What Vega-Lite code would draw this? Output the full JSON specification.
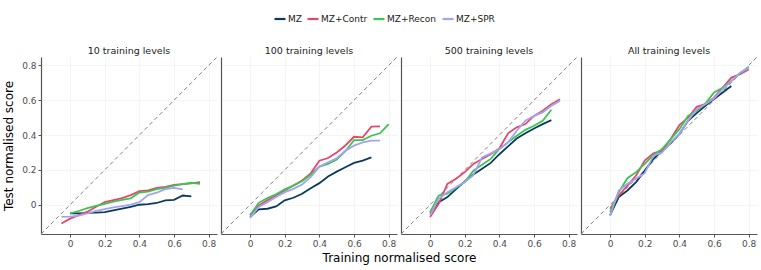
{
  "$schema": "https://vega.github.io/schema/vega-lite/v6.json",
  "padding": {"left": 2, "top": 12, "right": 3, "bottom": 5},
  "spacing": 4,
  "bounds": "flush",
  "config": {
    "font": "DejaVu Sans",
    "view": {"stroke": null},
    "axis": {
      "domainColor": "#555555", "domainWidth": 1.2,
      "tickColor": "#555555", "tickSize": 3, "tickWidth": 1,
      "labelColor": "#4d4d4d", "labelFontSize": 9, "labelFont": "DejaVu Sans",
      "titleFont": "DejaVu Sans", "titleFontWeight": "normal", "titleFontSize": 12, "titleColor": "#000000",
      "gridColor": "#eeeeee", "gridWidth": 0.6
    },
    "title": {"fontSize": 9.5, "fontWeight": "normal", "font": "DejaVu Sans", "color": "#1a1a1a", "offset": 2},
    "legend": {"labelFont": "DejaVu Sans", "labelFontSize": 9, "labelColor": "#1a1a1a"}
  },
  "datasets": {
    "diag": [{"x": -0.168, "y": -0.168}, {"x": 0.848, "y": 0.848}],
    "d": [
      {"panel": "10", "model": "MZ", "x": 0.0, "y": -0.05},
      {"panel": "10", "model": "MZ", "x": 0.05, "y": -0.05},
      {"panel": "10", "model": "MZ", "x": 0.1, "y": -0.047},
      {"panel": "10", "model": "MZ", "x": 0.15, "y": -0.045},
      {"panel": "10", "model": "MZ", "x": 0.2, "y": -0.042},
      {"panel": "10", "model": "MZ", "x": 0.25, "y": -0.033},
      {"panel": "10", "model": "MZ", "x": 0.3, "y": -0.023},
      {"panel": "10", "model": "MZ", "x": 0.35, "y": -0.012},
      {"panel": "10", "model": "MZ", "x": 0.4, "y": 0.0},
      {"panel": "10", "model": "MZ", "x": 0.45, "y": 0.003},
      {"panel": "10", "model": "MZ", "x": 0.5, "y": 0.01},
      {"panel": "10", "model": "MZ", "x": 0.55, "y": 0.025},
      {"panel": "10", "model": "MZ", "x": 0.6, "y": 0.028},
      {"panel": "10", "model": "MZ", "x": 0.65, "y": 0.053},
      {"panel": "10", "model": "MZ", "x": 0.7, "y": 0.048},

      {"panel": "10", "model": "MZ+Contr", "x": -0.05, "y": -0.108},
      {"panel": "10", "model": "MZ+Contr", "x": 0.0, "y": -0.08},
      {"panel": "10", "model": "MZ+Contr", "x": 0.05, "y": -0.06},
      {"panel": "10", "model": "MZ+Contr", "x": 0.1, "y": -0.04},
      {"panel": "10", "model": "MZ+Contr", "x": 0.15, "y": -0.012},
      {"panel": "10", "model": "MZ+Contr", "x": 0.2, "y": 0.015},
      {"panel": "10", "model": "MZ+Contr", "x": 0.25, "y": 0.027},
      {"panel": "10", "model": "MZ+Contr", "x": 0.3, "y": 0.038},
      {"panel": "10", "model": "MZ+Contr", "x": 0.35, "y": 0.055},
      {"panel": "10", "model": "MZ+Contr", "x": 0.4, "y": 0.078},
      {"panel": "10", "model": "MZ+Contr", "x": 0.45, "y": 0.082},
      {"panel": "10", "model": "MZ+Contr", "x": 0.5, "y": 0.097},
      {"panel": "10", "model": "MZ+Contr", "x": 0.55, "y": 0.102},
      {"panel": "10", "model": "MZ+Contr", "x": 0.6, "y": 0.114},
      {"panel": "10", "model": "MZ+Contr", "x": 0.65, "y": 0.118},
      {"panel": "10", "model": "MZ+Contr", "x": 0.7, "y": 0.123},
      {"panel": "10", "model": "MZ+Contr", "x": 0.75, "y": 0.13},

      {"panel": "10", "model": "MZ+Recon", "x": 0.0, "y": -0.05},
      {"panel": "10", "model": "MZ+Recon", "x": 0.05, "y": -0.036},
      {"panel": "10", "model": "MZ+Recon", "x": 0.1, "y": -0.02},
      {"panel": "10", "model": "MZ+Recon", "x": 0.15, "y": -0.007},
      {"panel": "10", "model": "MZ+Recon", "x": 0.2, "y": 0.005},
      {"panel": "10", "model": "MZ+Recon", "x": 0.25, "y": 0.018},
      {"panel": "10", "model": "MZ+Recon", "x": 0.3, "y": 0.028},
      {"panel": "10", "model": "MZ+Recon", "x": 0.35, "y": 0.037},
      {"panel": "10", "model": "MZ+Recon", "x": 0.4, "y": 0.07},
      {"panel": "10", "model": "MZ+Recon", "x": 0.45, "y": 0.075},
      {"panel": "10", "model": "MZ+Recon", "x": 0.5, "y": 0.09},
      {"panel": "10", "model": "MZ+Recon", "x": 0.55, "y": 0.097},
      {"panel": "10", "model": "MZ+Recon", "x": 0.6, "y": 0.11},
      {"panel": "10", "model": "MZ+Recon", "x": 0.65, "y": 0.118},
      {"panel": "10", "model": "MZ+Recon", "x": 0.7, "y": 0.126},
      {"panel": "10", "model": "MZ+Recon", "x": 0.75, "y": 0.12},

      {"panel": "10", "model": "MZ+SPR", "x": -0.05, "y": -0.07},
      {"panel": "10", "model": "MZ+SPR", "x": 0.0, "y": -0.068},
      {"panel": "10", "model": "MZ+SPR", "x": 0.05, "y": -0.062},
      {"panel": "10", "model": "MZ+SPR", "x": 0.1, "y": -0.05},
      {"panel": "10", "model": "MZ+SPR", "x": 0.15, "y": -0.035},
      {"panel": "10", "model": "MZ+SPR", "x": 0.2, "y": -0.025},
      {"panel": "10", "model": "MZ+SPR", "x": 0.25, "y": -0.015},
      {"panel": "10", "model": "MZ+SPR", "x": 0.3, "y": -0.008},
      {"panel": "10", "model": "MZ+SPR", "x": 0.35, "y": 0.0},
      {"panel": "10", "model": "MZ+SPR", "x": 0.4, "y": 0.015},
      {"panel": "10", "model": "MZ+SPR", "x": 0.45, "y": 0.055},
      {"panel": "10", "model": "MZ+SPR", "x": 0.5, "y": 0.07},
      {"panel": "10", "model": "MZ+SPR", "x": 0.55, "y": 0.09},
      {"panel": "10", "model": "MZ+SPR", "x": 0.6, "y": 0.097},
      {"panel": "10", "model": "MZ+SPR", "x": 0.65, "y": 0.088},

      {"panel": "100", "model": "MZ", "x": 0.0, "y": -0.07},
      {"panel": "100", "model": "MZ", "x": 0.05, "y": -0.027},
      {"panel": "100", "model": "MZ", "x": 0.1, "y": -0.023},
      {"panel": "100", "model": "MZ", "x": 0.15, "y": -0.01},
      {"panel": "100", "model": "MZ", "x": 0.2, "y": 0.025},
      {"panel": "100", "model": "MZ", "x": 0.25, "y": 0.04},
      {"panel": "100", "model": "MZ", "x": 0.3, "y": 0.063},
      {"panel": "100", "model": "MZ", "x": 0.35, "y": 0.095},
      {"panel": "100", "model": "MZ", "x": 0.4, "y": 0.124},
      {"panel": "100", "model": "MZ", "x": 0.45, "y": 0.162},
      {"panel": "100", "model": "MZ", "x": 0.5, "y": 0.19},
      {"panel": "100", "model": "MZ", "x": 0.55, "y": 0.215},
      {"panel": "100", "model": "MZ", "x": 0.6, "y": 0.24},
      {"panel": "100", "model": "MZ", "x": 0.65, "y": 0.253},
      {"panel": "100", "model": "MZ", "x": 0.7, "y": 0.272},

      {"panel": "100", "model": "MZ+Contr", "x": 0.0, "y": -0.06},
      {"panel": "100", "model": "MZ+Contr", "x": 0.05, "y": -0.004},
      {"panel": "100", "model": "MZ+Contr", "x": 0.1, "y": 0.025},
      {"panel": "100", "model": "MZ+Contr", "x": 0.15, "y": 0.053},
      {"panel": "100", "model": "MZ+Contr", "x": 0.2, "y": 0.082},
      {"panel": "100", "model": "MZ+Contr", "x": 0.25, "y": 0.11},
      {"panel": "100", "model": "MZ+Contr", "x": 0.3, "y": 0.139},
      {"panel": "100", "model": "MZ+Contr", "x": 0.35, "y": 0.18},
      {"panel": "100", "model": "MZ+Contr", "x": 0.4, "y": 0.253},
      {"panel": "100", "model": "MZ+Contr", "x": 0.45, "y": 0.268},
      {"panel": "100", "model": "MZ+Contr", "x": 0.5, "y": 0.3},
      {"panel": "100", "model": "MZ+Contr", "x": 0.55, "y": 0.34},
      {"panel": "100", "model": "MZ+Contr", "x": 0.6, "y": 0.39},
      {"panel": "100", "model": "MZ+Contr", "x": 0.65, "y": 0.387},
      {"panel": "100", "model": "MZ+Contr", "x": 0.7, "y": 0.448},
      {"panel": "100", "model": "MZ+Contr", "x": 0.75, "y": 0.45},

      {"panel": "100", "model": "MZ+Recon", "x": 0.0, "y": -0.06},
      {"panel": "100", "model": "MZ+Recon", "x": 0.05, "y": 0.011},
      {"panel": "100", "model": "MZ+Recon", "x": 0.1, "y": 0.038},
      {"panel": "100", "model": "MZ+Recon", "x": 0.15, "y": 0.06},
      {"panel": "100", "model": "MZ+Recon", "x": 0.2, "y": 0.088},
      {"panel": "100", "model": "MZ+Recon", "x": 0.25, "y": 0.11},
      {"panel": "100", "model": "MZ+Recon", "x": 0.3, "y": 0.135},
      {"panel": "100", "model": "MZ+Recon", "x": 0.35, "y": 0.172},
      {"panel": "100", "model": "MZ+Recon", "x": 0.4, "y": 0.219},
      {"panel": "100", "model": "MZ+Recon", "x": 0.45, "y": 0.234},
      {"panel": "100", "model": "MZ+Recon", "x": 0.5, "y": 0.259},
      {"panel": "100", "model": "MZ+Recon", "x": 0.55, "y": 0.307},
      {"panel": "100", "model": "MZ+Recon", "x": 0.6, "y": 0.371},
      {"panel": "100", "model": "MZ+Recon", "x": 0.65, "y": 0.371},
      {"panel": "100", "model": "MZ+Recon", "x": 0.7, "y": 0.396},
      {"panel": "100", "model": "MZ+Recon", "x": 0.75, "y": 0.41},
      {"panel": "100", "model": "MZ+Recon", "x": 0.8, "y": 0.463},

      {"panel": "100", "model": "MZ+SPR", "x": 0.0, "y": -0.076},
      {"panel": "100", "model": "MZ+SPR", "x": 0.05, "y": -0.013},
      {"panel": "100", "model": "MZ+SPR", "x": 0.1, "y": 0.015},
      {"panel": "100", "model": "MZ+SPR", "x": 0.15, "y": 0.044},
      {"panel": "100", "model": "MZ+SPR", "x": 0.2, "y": 0.072},
      {"panel": "100", "model": "MZ+SPR", "x": 0.25, "y": 0.091},
      {"panel": "100", "model": "MZ+SPR", "x": 0.3, "y": 0.116},
      {"panel": "100", "model": "MZ+SPR", "x": 0.35, "y": 0.158},
      {"panel": "100", "model": "MZ+SPR", "x": 0.4, "y": 0.219},
      {"panel": "100", "model": "MZ+SPR", "x": 0.45, "y": 0.244},
      {"panel": "100", "model": "MZ+SPR", "x": 0.5, "y": 0.267},
      {"panel": "100", "model": "MZ+SPR", "x": 0.55, "y": 0.31},
      {"panel": "100", "model": "MZ+SPR", "x": 0.6, "y": 0.339},
      {"panel": "100", "model": "MZ+SPR", "x": 0.65, "y": 0.358},
      {"panel": "100", "model": "MZ+SPR", "x": 0.7, "y": 0.368},
      {"panel": "100", "model": "MZ+SPR", "x": 0.75, "y": 0.368},

      {"panel": "500", "model": "MZ", "x": 0.0, "y": -0.05},
      {"panel": "500", "model": "MZ", "x": 0.05, "y": 0.015},
      {"panel": "500", "model": "MZ", "x": 0.1, "y": 0.044},
      {"panel": "500", "model": "MZ", "x": 0.15, "y": 0.09},
      {"panel": "500", "model": "MZ", "x": 0.2, "y": 0.133},
      {"panel": "500", "model": "MZ", "x": 0.25, "y": 0.173},
      {"panel": "500", "model": "MZ", "x": 0.3, "y": 0.206},
      {"panel": "500", "model": "MZ", "x": 0.35, "y": 0.24},
      {"panel": "500", "model": "MZ", "x": 0.4, "y": 0.29},
      {"panel": "500", "model": "MZ", "x": 0.45, "y": 0.335},
      {"panel": "500", "model": "MZ", "x": 0.5, "y": 0.38},
      {"panel": "500", "model": "MZ", "x": 0.55, "y": 0.41},
      {"panel": "500", "model": "MZ", "x": 0.6, "y": 0.438},
      {"panel": "500", "model": "MZ", "x": 0.65, "y": 0.463},
      {"panel": "500", "model": "MZ", "x": 0.7, "y": 0.486},

      {"panel": "500", "model": "MZ+Contr", "x": 0.0, "y": -0.07},
      {"panel": "500", "model": "MZ+Contr", "x": 0.05, "y": 0.006},
      {"panel": "500", "model": "MZ+Contr", "x": 0.1, "y": 0.12},
      {"panel": "500", "model": "MZ+Contr", "x": 0.15, "y": 0.149},
      {"panel": "500", "model": "MZ+Contr", "x": 0.2, "y": 0.187},
      {"panel": "500", "model": "MZ+Contr", "x": 0.25, "y": 0.234},
      {"panel": "500", "model": "MZ+Contr", "x": 0.3, "y": 0.263},
      {"panel": "500", "model": "MZ+Contr", "x": 0.35, "y": 0.29},
      {"panel": "500", "model": "MZ+Contr", "x": 0.4, "y": 0.324},
      {"panel": "500", "model": "MZ+Contr", "x": 0.45, "y": 0.41},
      {"panel": "500", "model": "MZ+Contr", "x": 0.5, "y": 0.444},
      {"panel": "500", "model": "MZ+Contr", "x": 0.55, "y": 0.463},
      {"panel": "500", "model": "MZ+Contr", "x": 0.6, "y": 0.51},
      {"panel": "500", "model": "MZ+Contr", "x": 0.65, "y": 0.539},
      {"panel": "500", "model": "MZ+Contr", "x": 0.7, "y": 0.577},
      {"panel": "500", "model": "MZ+Contr", "x": 0.75, "y": 0.606},

      {"panel": "500", "model": "MZ+Recon", "x": 0.0, "y": -0.042},
      {"panel": "500", "model": "MZ+Recon", "x": 0.05, "y": 0.053},
      {"panel": "500", "model": "MZ+Recon", "x": 0.1, "y": 0.063},
      {"panel": "500", "model": "MZ+Recon", "x": 0.15, "y": 0.097},
      {"panel": "500", "model": "MZ+Recon", "x": 0.2, "y": 0.13},
      {"panel": "500", "model": "MZ+Recon", "x": 0.25, "y": 0.196},
      {"panel": "500", "model": "MZ+Recon", "x": 0.3, "y": 0.229},
      {"panel": "500", "model": "MZ+Recon", "x": 0.35, "y": 0.263},
      {"panel": "500", "model": "MZ+Recon", "x": 0.4, "y": 0.32},
      {"panel": "500", "model": "MZ+Recon", "x": 0.45, "y": 0.358},
      {"panel": "500", "model": "MZ+Recon", "x": 0.5, "y": 0.396},
      {"panel": "500", "model": "MZ+Recon", "x": 0.55, "y": 0.43},
      {"panel": "500", "model": "MZ+Recon", "x": 0.6, "y": 0.453},
      {"panel": "500", "model": "MZ+Recon", "x": 0.65, "y": 0.482},
      {"panel": "500", "model": "MZ+Recon", "x": 0.7, "y": 0.545},

      {"panel": "500", "model": "MZ+SPR", "x": 0.0, "y": -0.06},
      {"panel": "500", "model": "MZ+SPR", "x": 0.05, "y": 0.034},
      {"panel": "500", "model": "MZ+SPR", "x": 0.1, "y": 0.072},
      {"panel": "500", "model": "MZ+SPR", "x": 0.15, "y": 0.1},
      {"panel": "500", "model": "MZ+SPR", "x": 0.2, "y": 0.13},
      {"panel": "500", "model": "MZ+SPR", "x": 0.25, "y": 0.171},
      {"panel": "500", "model": "MZ+SPR", "x": 0.3, "y": 0.272},
      {"panel": "500", "model": "MZ+SPR", "x": 0.35, "y": 0.295},
      {"panel": "500", "model": "MZ+SPR", "x": 0.4, "y": 0.32},
      {"panel": "500", "model": "MZ+SPR", "x": 0.45, "y": 0.358},
      {"panel": "500", "model": "MZ+SPR", "x": 0.5, "y": 0.425},
      {"panel": "500", "model": "MZ+SPR", "x": 0.55, "y": 0.482},
      {"panel": "500", "model": "MZ+SPR", "x": 0.6, "y": 0.51},
      {"panel": "500", "model": "MZ+SPR", "x": 0.65, "y": 0.53},
      {"panel": "500", "model": "MZ+SPR", "x": 0.7, "y": 0.568},
      {"panel": "500", "model": "MZ+SPR", "x": 0.75, "y": 0.596},

      {"panel": "All", "model": "MZ", "x": 0.0, "y": -0.06},
      {"panel": "All", "model": "MZ", "x": 0.05, "y": 0.044},
      {"panel": "All", "model": "MZ", "x": 0.1, "y": 0.082},
      {"panel": "All", "model": "MZ", "x": 0.15, "y": 0.13},
      {"panel": "All", "model": "MZ", "x": 0.2, "y": 0.196},
      {"panel": "All", "model": "MZ", "x": 0.25, "y": 0.263},
      {"panel": "All", "model": "MZ", "x": 0.3, "y": 0.31},
      {"panel": "All", "model": "MZ", "x": 0.35, "y": 0.354},
      {"panel": "All", "model": "MZ", "x": 0.4, "y": 0.406},
      {"panel": "All", "model": "MZ", "x": 0.45, "y": 0.482},
      {"panel": "All", "model": "MZ", "x": 0.5, "y": 0.526},
      {"panel": "All", "model": "MZ", "x": 0.55, "y": 0.568},
      {"panel": "All", "model": "MZ", "x": 0.6, "y": 0.606},
      {"panel": "All", "model": "MZ", "x": 0.65, "y": 0.644},
      {"panel": "All", "model": "MZ", "x": 0.7, "y": 0.682},

      {"panel": "All", "model": "MZ+Contr", "x": 0.0, "y": -0.023},
      {"panel": "All", "model": "MZ+Contr", "x": 0.05, "y": 0.053},
      {"panel": "All", "model": "MZ+Contr", "x": 0.1, "y": 0.11},
      {"panel": "All", "model": "MZ+Contr", "x": 0.15, "y": 0.168},
      {"panel": "All", "model": "MZ+Contr", "x": 0.2, "y": 0.253},
      {"panel": "All", "model": "MZ+Contr", "x": 0.25, "y": 0.295},
      {"panel": "All", "model": "MZ+Contr", "x": 0.3, "y": 0.31},
      {"panel": "All", "model": "MZ+Contr", "x": 0.35, "y": 0.377},
      {"panel": "All", "model": "MZ+Contr", "x": 0.4, "y": 0.457},
      {"panel": "All", "model": "MZ+Contr", "x": 0.45, "y": 0.5},
      {"panel": "All", "model": "MZ+Contr", "x": 0.5, "y": 0.562},
      {"panel": "All", "model": "MZ+Contr", "x": 0.55, "y": 0.577},
      {"panel": "All", "model": "MZ+Contr", "x": 0.6, "y": 0.615},
      {"panel": "All", "model": "MZ+Contr", "x": 0.65, "y": 0.672},
      {"panel": "All", "model": "MZ+Contr", "x": 0.7, "y": 0.73},
      {"panel": "All", "model": "MZ+Contr", "x": 0.75, "y": 0.749},
      {"panel": "All", "model": "MZ+Contr", "x": 0.8, "y": 0.777},

      {"panel": "All", "model": "MZ+Recon", "x": 0.0, "y": -0.042},
      {"panel": "All", "model": "MZ+Recon", "x": 0.05, "y": 0.072},
      {"panel": "All", "model": "MZ+Recon", "x": 0.1, "y": 0.152},
      {"panel": "All", "model": "MZ+Recon", "x": 0.15, "y": 0.187},
      {"panel": "All", "model": "MZ+Recon", "x": 0.2, "y": 0.234},
      {"panel": "All", "model": "MZ+Recon", "x": 0.25, "y": 0.286},
      {"panel": "All", "model": "MZ+Recon", "x": 0.3, "y": 0.32},
      {"panel": "All", "model": "MZ+Recon", "x": 0.35, "y": 0.377},
      {"panel": "All", "model": "MZ+Recon", "x": 0.4, "y": 0.434},
      {"panel": "All", "model": "MZ+Recon", "x": 0.45, "y": 0.51},
      {"panel": "All", "model": "MZ+Recon", "x": 0.5, "y": 0.539},
      {"panel": "All", "model": "MZ+Recon", "x": 0.55, "y": 0.581},
      {"panel": "All", "model": "MZ+Recon", "x": 0.6, "y": 0.644},
      {"panel": "All", "model": "MZ+Recon", "x": 0.65, "y": 0.672},
      {"panel": "All", "model": "MZ+Recon", "x": 0.7, "y": 0.71},
      {"panel": "All", "model": "MZ+Recon", "x": 0.75, "y": 0.754},
      {"panel": "All", "model": "MZ+Recon", "x": 0.8, "y": 0.792},

      {"panel": "All", "model": "MZ+SPR", "x": 0.0, "y": -0.065},
      {"panel": "All", "model": "MZ+SPR", "x": 0.05, "y": 0.082},
      {"panel": "All", "model": "MZ+SPR", "x": 0.1, "y": 0.12},
      {"panel": "All", "model": "MZ+SPR", "x": 0.15, "y": 0.149},
      {"panel": "All", "model": "MZ+SPR", "x": 0.2, "y": 0.181},
      {"panel": "All", "model": "MZ+SPR", "x": 0.25, "y": 0.282},
      {"panel": "All", "model": "MZ+SPR", "x": 0.3, "y": 0.3},
      {"panel": "All", "model": "MZ+SPR", "x": 0.35, "y": 0.358},
      {"panel": "All", "model": "MZ+SPR", "x": 0.4, "y": 0.406},
      {"panel": "All", "model": "MZ+SPR", "x": 0.45, "y": 0.482},
      {"panel": "All", "model": "MZ+SPR", "x": 0.5, "y": 0.549},
      {"panel": "All", "model": "MZ+SPR", "x": 0.55, "y": 0.577},
      {"panel": "All", "model": "MZ+SPR", "x": 0.6, "y": 0.61},
      {"panel": "All", "model": "MZ+SPR", "x": 0.65, "y": 0.663},
      {"panel": "All", "model": "MZ+SPR", "x": 0.7, "y": 0.71},
      {"panel": "All", "model": "MZ+SPR", "x": 0.75, "y": 0.758},
      {"panel": "All", "model": "MZ+SPR", "x": 0.8, "y": 0.787}
    ]
  },
  "hconcat": [
    {
      "width": 176, "height": 177,
      "title": "10 training levels",
      "layer": [
        {"data": {"name": "diag"}, "mark": {"type": "line", "strokeDash": [4, 3], "color": "#7f7f7f", "strokeWidth": 1, "clip": true},
         "encoding": {
           "x": {"field": "x", "type": "quantitative", "scale": {"domain": [-0.168, 0.848], "nice": false, "zero": false},
                 "axis": {"values": [0, 0.2, 0.4, 0.6, 0.8], "format": ".1~f", "title": null, "grid": true}},
           "y": {"field": "y", "type": "quantitative", "scale": {"domain": [-0.168, 0.848], "nice": false, "zero": false},
                 "axis": {"values": [0, 0.2, 0.4, 0.6, 0.8], "format": ".1~f", "title": "Test normalised score", "titlePadding": 6, "grid": true}}
         }},
        {"data": {"name": "d"}, "transform": [{"filter": "datum.panel == '10'"}],
         "mark": {"type": "line", "strokeWidth": 1.8, "clip": true},
         "encoding": {
           "x": {"field": "x", "type": "quantitative"},
           "y": {"field": "y", "type": "quantitative"},
           "color": {"field": "model", "type": "nominal",
                     "scale": {"domain": ["MZ", "MZ+Contr", "MZ+Recon", "MZ+SPR"], "range": ["#0b3b5b", "#e5476a", "#3cc452", "#a3a3f2"]},
                     "legend": {"orient": "none", "legendX": 232, "legendY": -45, "direction": "horizontal", "title": null, "symbolType": "stroke", "symbolStrokeWidth": 2.2, "symbolSize": 120, "columnPadding": 1, "labelOffset": 1}}
         }}
      ]
    },
    {
      "width": 176, "height": 177,
      "title": "100 training levels",
      "layer": [
        {"data": {"name": "diag"}, "mark": {"type": "line", "strokeDash": [4, 3], "color": "#7f7f7f", "strokeWidth": 1, "clip": true},
         "encoding": {
           "x": {"field": "x", "type": "quantitative", "scale": {"domain": [-0.168, 0.848], "nice": false, "zero": false},
                 "axis": {"values": [0, 0.2, 0.4, 0.6, 0.8], "format": ".1~f", "title": "Training normalised score", "titleX": 178, "titlePadding": 4, "grid": true}},
           "y": {"field": "y", "type": "quantitative", "scale": {"domain": [-0.168, 0.848], "nice": false, "zero": false},
                 "axis": {"values": [0, 0.2, 0.4, 0.6, 0.8], "labels": false, "ticks": false, "title": null, "grid": true}}
         }},
        {"data": {"name": "d"}, "transform": [{"filter": "datum.panel == '100'"}],
         "mark": {"type": "line", "strokeWidth": 1.8, "clip": true},
         "encoding": {
           "x": {"field": "x", "type": "quantitative"},
           "y": {"field": "y", "type": "quantitative"},
           "color": {"field": "model", "type": "nominal"}
         }}
      ]
    },
    {
      "width": 176, "height": 177,
      "title": "500 training levels",
      "layer": [
        {"data": {"name": "diag"}, "mark": {"type": "line", "strokeDash": [4, 3], "color": "#7f7f7f", "strokeWidth": 1, "clip": true},
         "encoding": {
           "x": {"field": "x", "type": "quantitative", "scale": {"domain": [-0.168, 0.848], "nice": false, "zero": false},
                 "axis": {"values": [0, 0.2, 0.4, 0.6, 0.8], "format": ".1~f", "title": null, "grid": true}},
           "y": {"field": "y", "type": "quantitative", "scale": {"domain": [-0.168, 0.848], "nice": false, "zero": false},
                 "axis": {"values": [0, 0.2, 0.4, 0.6, 0.8], "labels": false, "ticks": false, "title": null, "grid": true}}
         }},
        {"data": {"name": "d"}, "transform": [{"filter": "datum.panel == '500'"}],
         "mark": {"type": "line", "strokeWidth": 1.8, "clip": true},
         "encoding": {
           "x": {"field": "x", "type": "quantitative"},
           "y": {"field": "y", "type": "quantitative"},
           "color": {"field": "model", "type": "nominal"}
         }}
      ]
    },
    {
      "width": 176, "height": 177,
      "title": "All training levels",
      "layer": [
        {"data": {"name": "diag"}, "mark": {"type": "line", "strokeDash": [4, 3], "color": "#7f7f7f", "strokeWidth": 1, "clip": true},
         "encoding": {
           "x": {"field": "x", "type": "quantitative", "scale": {"domain": [-0.168, 0.848], "nice": false, "zero": false},
                 "axis": {"values": [0, 0.2, 0.4, 0.6, 0.8], "format": ".1~f", "title": null, "grid": true}},
           "y": {"field": "y", "type": "quantitative", "scale": {"domain": [-0.168, 0.848], "nice": false, "zero": false},
                 "axis": {"values": [0, 0.2, 0.4, 0.6, 0.8], "labels": false, "ticks": false, "title": null, "grid": true}}
         }},
        {"data": {"name": "d"}, "transform": [{"filter": "datum.panel == 'All'"}],
         "mark": {"type": "line", "strokeWidth": 1.8, "clip": true},
         "encoding": {
           "x": {"field": "x", "type": "quantitative"},
           "y": {"field": "y", "type": "quantitative"},
           "color": {"field": "model", "type": "nominal"}
         }}
      ]
    }
  ]
}
